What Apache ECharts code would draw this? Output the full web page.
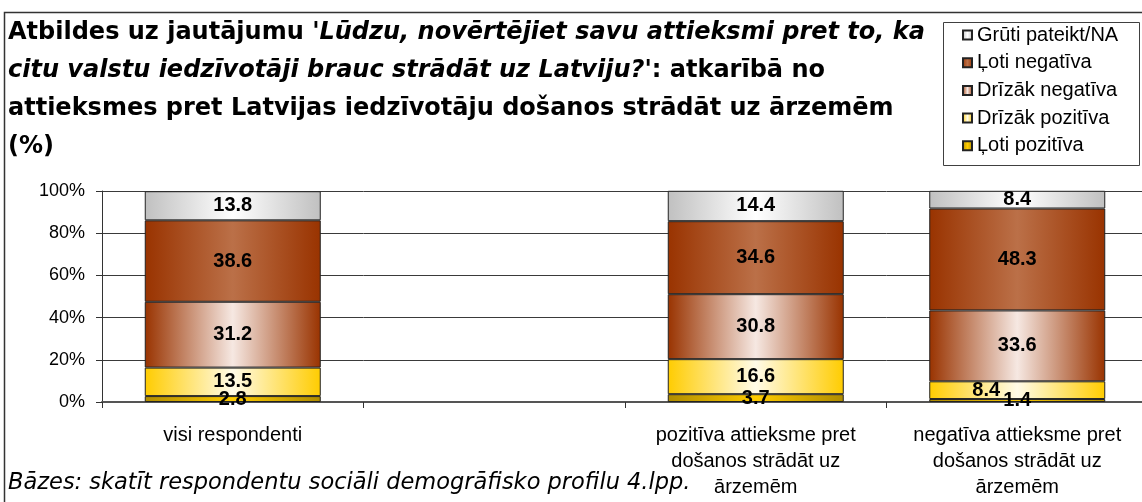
<!DOCTYPE html>
<html>
<head>
<meta charset="utf-8">
<script src="https://cdn.jsdelivr.net/npm/echarts@6/dist/echarts.min.js"></script>
<style>
  html, body { margin: 0; padding: 0; background: #fff; overflow: hidden; }
  /* the plot runs a few pixels past the right edge of the window */
  #chart { width: 1150px; height: 502px; }
</style>
</head>
<body>
<div id="chart"></div>
<script>
// Groups shown on the category axis (the second slot is an empty spacer)
const categories = [
  'visi respondenti',
  '',
  'pozitīva attieksme pret\ndošanos strādāt uz\nārzemēm',
  'negatīva attieksme pret\ndošanos strādāt uz\nārzemēm'
];

// Answer shares, %, per group
const lotiPozitiva   = [2.8,  null, 3.7,  1.4];
const drizakPozitiva = [13.5, null, 16.6, 8.4];
const drizakNegativa = [31.2, null, 30.8, 33.6];
const lotiNegativa   = [38.6, null, 34.6, 48.3];
const gruti          = [13.8, null, 14.4, 8.4];

// Value axis ticks
const yMin = 0, yMax = 100, yStep = 20;

const SANS = '"Liberation Sans", Arial, sans-serif';
const WIDE = '"DejaVu Sans", sans-serif';

function hGrad(edge, mid) {
  return new echarts.graphic.LinearGradient(0, 0, 1, 0, [
    { offset: 0, color: edge },
    { offset: 0.5, color: mid },
    { offset: 1, color: edge }
  ]);
}

// Stack from bottom to top
const stackDefs = [
  { name: 'Ļoti pozitīva',    values: lotiPozitiva,   edge: '#b08c00', mid: '#ffcc00' },
  { name: 'Drīzāk pozitīva',  values: drizakPozitiva, edge: '#ffcc00', mid: '#fffbe8' },
  { name: 'Drīzāk negatīva',  values: drizakNegativa, edge: '#993300', mid: '#f6e8e2' },
  { name: 'Ļoti negatīva',    values: lotiNegativa,   edge: '#993300', mid: '#bb7048' },
  { name: 'Grūti pateikt/NA', values: gruti,          edge: '#c0c0c0', mid: '#ffffff' }
];

// Labels nudged sideways where two small segments meet
const labelNudge = { 'Drīzāk pozitīva': { 3: [-31, 0] } };

const series = stackDefs.map(d => ({
  name: d.name,
  type: 'bar',
  stack: 'all',
  barWidth: 176,
  itemStyle: { color: hGrad(d.edge, d.mid), borderColor: '#222', borderWidth: 1 },
  label: {
    show: true,
    position: 'inside',
    color: '#000',
    fontFamily: SANS,
    fontWeight: 'bold',
    fontSize: 20,
    formatter: p => (p.value == null ? '' : Number(p.value).toFixed(1))
  },
  data: d.values.map((v, i) => {
    const nudge = labelNudge[d.name] && labelNudge[d.name][i];
    return nudge ? { value: v, label: { offset: nudge } } : v;
  })
}));

const titleText =
  "{b|Atbildes uz jautājumu }{bi|'Lūdzu, novērtējiet savu attieksmi pret to, ka}\n" +
  "{bi|citu valstu iedzīvotāji brauc strādāt uz Latviju?'}{b|: atkarībā no}\n" +
  "{b|attieksmes pret Latvijas iedzīvotāju došanos strādāt uz ārzemēm}\n" +
  "{b|(%)}";

const chart = echarts.init(document.getElementById('chart'), null, { renderer: 'canvas' });

chart.setOption({
  animation: false,
  backgroundColor: '#ffffff',
  title: {
    text: titleText,
    left: 8,
    top: 14,
    padding: 0,
    textStyle: {
      rich: {
        b:  { fontFamily: WIDE, fontWeight: 'bold', fontSize: 24, lineHeight: 38, color: '#000' },
        bi: { fontFamily: WIDE, fontWeight: 'bold', fontStyle: 'italic', fontSize: 24, lineHeight: 38, color: '#000' }
      }
    }
  },
  legend: {
    orient: 'vertical',
    left: 962,
    top: 25,
    padding: 0,
    itemWidth: 9,
    itemHeight: 9,
    itemGap: 7.7,
    icon: 'rect',
    data: ['Grūti pateikt/NA', 'Ļoti negatīva', 'Drīzāk negatīva', 'Drīzāk pozitīva', 'Ļoti pozitīva'],
    textStyle: { fontFamily: SANS, fontSize: 20, lineHeight: 20, color: '#000' }
  },
  grid: { left: 102, top: 191, width: 1046, height: 211, containLabel: false },
  xAxis: {
    type: 'category',
    data: categories,
    axisLine: { lineStyle: { color: '#555', width: 2 } },
    axisTick: { show: true, alignWithLabel: false, length: 6, lineStyle: { color: '#333' } },
    axisLabel: {
      interval: 0,
      margin: 20,
      lineHeight: 26,
      fontFamily: SANS,
      fontSize: 20,
      color: '#000'
    }
  },
  yAxis: {
    type: 'value',
    min: yMin,
    max: yMax,
    interval: yStep,
    axisLine: { show: true, lineStyle: { color: '#333' } },
    axisTick: { show: true, length: 6, lineStyle: { color: '#333' } },
    splitLine: { lineStyle: { color: '#3a3a3a', width: 1 } },
    axisLabel: {
      formatter: '{value}%',
      margin: 17,
      fontFamily: SANS,
      fontSize: 18,
      color: '#000'
    }
  },
  graphic: [
    {
      type: 'rect',
      silent: true,
      shape: { x: 4.5, y: 12.5, width: 1200, height: 600 },
      style: { fill: null, stroke: '#333', lineWidth: 1.5 }
    },
    {
      type: 'rect',
      silent: true,
      shape: { x: 943.5, y: 22.5, width: 196, height: 143 },
      style: { fill: null, stroke: '#404040', lineWidth: 1 }
    },
    {
      type: 'text',
      silent: true,
      left: 8,
      top: 472,
      style: {
        text: 'Bāzes: skatīt respondentu sociāli demogrāfisko profilu 4.lpp.',
        font: 'italic 22.5px "DejaVu Sans", sans-serif',
        fill: '#000'
      }
    }
  ],
  series: series
});
</script>
</body>
</html>
